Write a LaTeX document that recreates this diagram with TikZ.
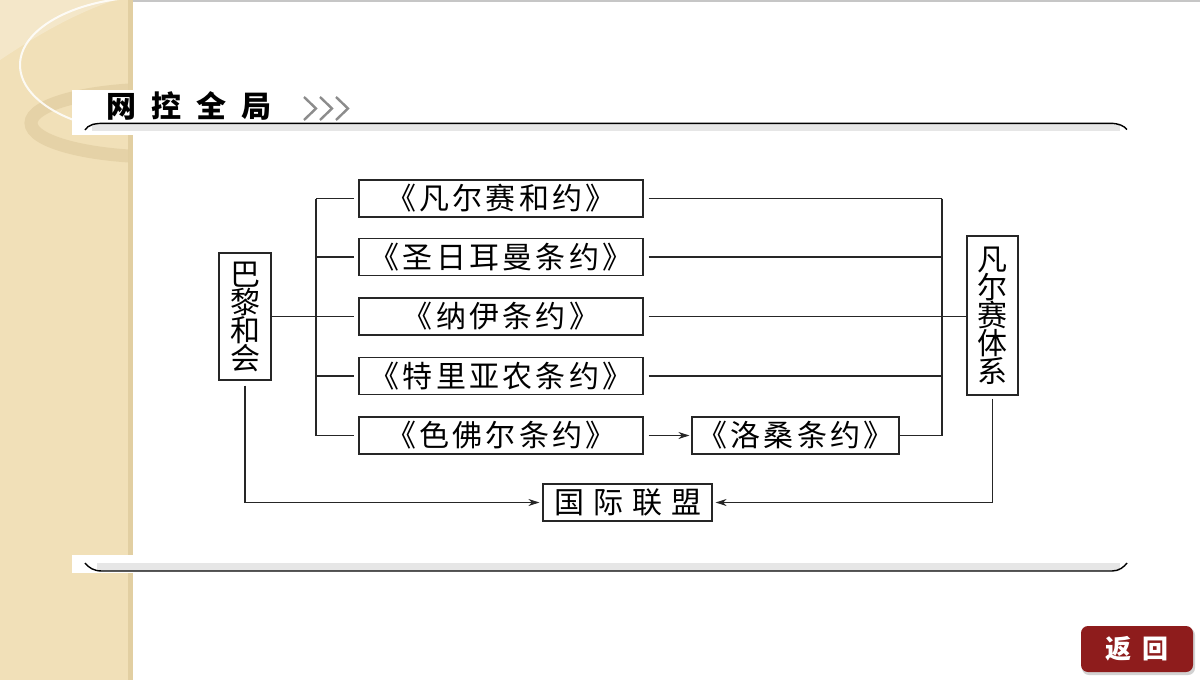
\documentclass[tikz,border=0pt]{standalone}
\usepackage{fontspec}
\newfontfamily\cjk{Noto Sans CJK SC}
\newfontfamily\cjkls{Noto Sans CJK SC}[LetterSpace=11]
\newfontfamily\cjkwide{Noto Sans CJK SC}[LetterSpace=30]
\newfontfamily\cjktitle{Noto Sans CJK SC}[LetterSpace=50]
\newfontfamily\cjkbtn{Noto Sans CJK SC}[LetterSpace=45]
\usetikzlibrary{arrows.meta}
\definecolor{band}{HTML}{F1E0B8}
\definecolor{bandedge}{HTML}{E2CFA2}
\definecolor{ring}{HTML}{D8C293}
\definecolor{btn}{HTML}{8E1C1C}
\definecolor{hdrgray}{HTML}{E6E6E6}
\definecolor{chev}{HTML}{8C8C8C}
\tikzset{
  box/.style={draw=black!85, line width=1.2pt, inner sep=0pt, font=\cjkls\fontsize{30}{30}\selectfont},
  vbox/.style={draw=black!85, line width=1.2pt, inner sep=0pt, align=center, font=\cjk\fontsize{30}{28}\selectfont},
  treaty/.style={box, minimum width=284pt, minimum height=37pt},
  conn/.style={line width=1.1pt, draw=black!85},
  arr/.style={conn, -{Stealth[length=11pt,width=7pt]}},
  hdrline/.style={line width=1.4pt, draw=black},
  chevron/.style={line width=2.4pt, draw=chev}
}
\begin{document}
\begin{tikzpicture}[x=1pt,y=-1pt]
\useasboundingbox (0,0) rectangle (1200,680);
\fill[white] (0,0) rectangle (1200,680);
% left decorative band
\fill[band] (0,0) rectangle (133,680);
\fill[bandedge] (128,0) rectangle (133,680);
\begin{scope}
  \clip (0,0) rectangle (128,680);
  \fill[white, opacity=0.25] (0,0) -- (0,60) .. controls (30,40) and (70,15) .. (115,0) -- cycle;
  \draw[ring, line width=13pt, opacity=0.45] (160,123) ellipse [x radius=129pt, y radius=34pt];
  \draw[white, line width=2pt, opacity=0.85] (150,65) ellipse [x radius=130pt, y radius=68pt];
\end{scope}
\draw[gray!45, line width=2pt] (133,1) -- (1200,1);
% header
\fill[white] (72,90) rectangle (133,135);
\fill[hdrgray] (92,123) rectangle (1120,131);
\draw[hdrline] (85,130) .. controls (88,125) and (94,123.3) .. (104,123.3) -- (1110,123.3) .. controls (1119,123.3) and (1124,126) .. (1127,129.5);
\node[anchor=west, inner sep=0pt, font=\cjktitle\bfseries\fontsize{30}{30}\selectfont] (title) at (106,106) {网控全局};
\draw[chevron] (304,97) -- (316,108.5) -- (304,120);
\draw[chevron] (320,97) -- (332,108.5) -- (320,120);
\draw[chevron] (336,97) -- (348,108.5) -- (336,120);
% footer line
\fill[white] (72,555) rectangle (133,573);
\fill[hdrgray] (97,563) rectangle (1120,571);
\draw[hdrline] (85,563) .. controls (89,568) and (94,571) .. (102,571) -- (1112,571) .. controls (1119,571) and (1124,567) .. (1127,563);
% nodes
\node[treaty] (v) at (501,198.5) {《凡尔赛和约》};
\node[treaty] (s) at (501,257) {《圣日耳曼条约》};
\node[treaty] (n) at (501,316.5) {《纳伊条约》};
\node[treaty] (t) at (501,376) {《特里亚农条约》};
\node[treaty] (f) at (501,435.5) {《色佛尔条约》};
\node[box, minimum width=207pt, minimum height=37pt] (l) at (795.5,435.5) {《洛桑条约》};
\node[vbox, minimum width=52pt, minimum height=127pt] (p) at (245,316.5) {巴\\黎\\和\\会};
\node[vbox, minimum width=51pt, minimum height=159pt] (vs) at (992.5,315.5) {凡\\尔\\赛\\体\\系};
\node[box, minimum width=169pt, minimum height=37pt, font=\cjkwide\fontsize{30}{30}\selectfont] (g) at (627.5,502.5) {国际联盟};
% connectors
\coordinate (trunk) at (316,0);
\coordinate (rt) at (942,0);
\draw[conn] (p.east) -- (trunk |- p.east);
\draw[conn] (trunk |- v.west) -- (trunk |- f.west);
\foreach \b in {v,s,n,t,f} {
  \draw[conn, shorten >=4pt] (trunk |- \b.west) -- (\b.west);
}
\foreach \b in {v,s,t} {
  \draw[conn, shorten <=5pt] (\b.east) -- (rt |- \b.east);
}
\draw[conn] (rt |- v.east) -- (rt |- l.east);
\draw[conn] (l.east) -- (rt |- l.east);
\draw[conn, shorten <=5pt] (n.east) -- (n.east -| vs.west);
\draw[arr, shorten <=5pt, shorten >=2pt] (f.east) -- (l.west);
\draw[arr, shorten >=3pt] ([yshift=-5pt]p.south) |- (g.west);
\draw[arr, shorten >=3pt] ([yshift=-3pt]vs.south) |- (g.east);
% back button
\fill[gray!35, rounded corners=7pt] (1082,628) rectangle (1195,675);
\node[fill=btn, rounded corners=7pt, minimum width=112pt, minimum height=46pt, inner sep=0pt, text=white, font=\cjkbtn\bfseries\fontsize{26}{26}\selectfont] (back) at (1137,649) {返回};
\end{tikzpicture}
\end{document}
